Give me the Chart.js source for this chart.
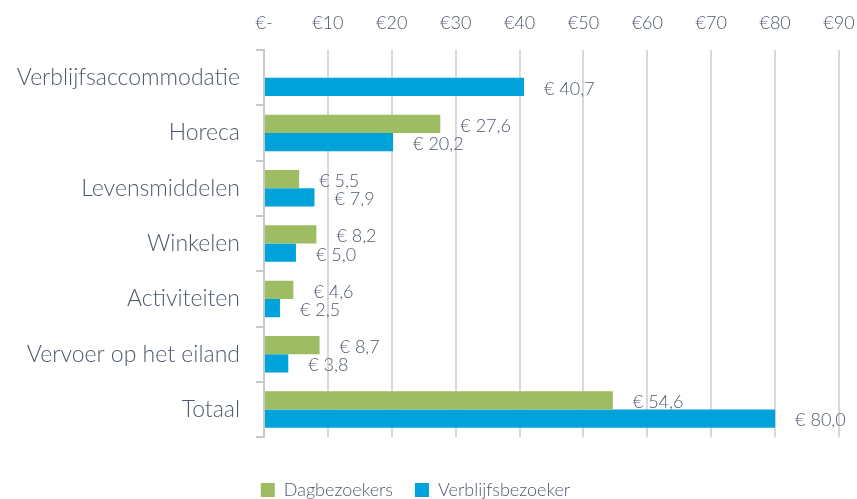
<!DOCTYPE html>
<html>
<head>
  <meta charset="UTF-8">
  <script src="https://cdn.jsdelivr.net/npm/chart.js"></script>
  <title>Uitgaven per bezoeker</title>
  <style>
    html, body { margin: 0; padding: 0; background: #fff; }
    #wrapper { width: 857px; height: 499px; }
  </style>
</head>
<body>
<div id="wrapper">
  <canvas id="spend" width="857" height="499"></canvas>
</div>
<script>
    const categories = ['Verblijfsaccommodatie', 'Horeca', 'Levensmiddelen', 'Winkelen', 'Activiteiten', 'Vervoer op het eiland', 'Totaal'];
    const dagbezoekers = [null, 27.6, 5.5, 8.2, 4.6, 8.7, 54.6];
    const verblijfsbezoeker = [40.7, 20.2, 7.9, 5.0, 2.5, 3.8, 80.0];
    const xTicks = [0, 10, 20, 30, 40, 50, 60, 70, 80, 90];

    const fontFamily = 'Lato, "Source Sans Pro", "Open Sans", sans-serif';
    const textColor = '#4d5a6b';

    function euro(v) {
        return '€ ' + v.toFixed(1).replace('.', ',');
    }

    // value labels right of each bar
    const valueLabels = {
        id: 'valueLabels',
        afterDatasetsDraw(chart) {
            const ctx = chart.ctx;
            ctx.save();
            ctx.font = '300 18px ' + fontFamily;
            ctx.fillStyle = textColor;
            ctx.textBaseline = 'middle';
            ctx.textAlign = 'left';
            chart.data.datasets.forEach((ds, i) => {
                const meta = chart.getDatasetMeta(i);
                meta.data.forEach((bar, j) => {
                    const v = ds.data[j];
                    if (v === null || v === undefined) return;
                    ctx.fillText(euro(v), bar.x + 20, bar.y + 2);
                });
            });
            ctx.restore();
        }
    };

    // nudge the legend a bit (left and down), like the original
    const legendShift = {
        id: 'legendShift',
        afterLayout(chart) {
            const lg = chart.legend;
            if (!lg) return;
            lg.left -= 13; lg.right -= 13;
            lg.top += 10; lg.bottom += 10;
        }
    };

    const ctx = document.getElementById('spend').getContext('2d');
    const config = {
        type: 'bar',
        data: {
            labels: categories,
            datasets: [
                {
                    label: 'Dagbezoekers',
                    data: dagbezoekers,
                    backgroundColor: '#9ebd62',
                    barPercentage: 1.0,
                    categoryPercentage: 0.66
                },
                {
                    label: 'Verblijfsbezoeker',
                    data: verblijfsbezoeker,
                    backgroundColor: '#00a2dc',
                    barPercentage: 1.0,
                    categoryPercentage: 0.66
                }
            ]
        },
        options: {
            indexAxis: 'y',
            responsive: false,
            animation: false,
            layout: { padding: 0 },
            scales: {
                x: {
                    position: 'top',
                    min: 0,
                    max: 90,
                    afterBuildTicks(scale) {
                        scale.ticks = xTicks.map(v => ({ value: v }));
                    },
                    afterFit(scale) {
                        scale.height = 50;
                        scale.paddingRight = 18;
                        scale.paddingLeft = 0;
                    },
                    border: { display: false },
                    grid: { color: '#d9d9d9', lineWidth: 2, drawTicks: false },
                    ticks: {
                        padding: 16,
                        color: textColor,
                        font: { family: fontFamily, size: 18, weight: '300' },
                        callback: v => v === 0 ? '€-' : '€' + v
                    }
                },
                y: {
                    afterFit(scale) { scale.width = 264; },
                    border: { display: true, color: '#c8c8c8', width: 2 },
                    grid: { offset: true, drawOnChartArea: false, color: '#c8c8c8', lineWidth: 2, tickLength: 8 },
                    ticks: {
                        padding: 16,
                        color: textColor,
                        font: { family: fontFamily, size: 23, weight: '300' }
                    }
                }
            },
            plugins: {
                tooltip: { enabled: false },
                legend: {
                    position: 'bottom',
                    title: { display: true, text: ' ', padding: { top: 7, bottom: 0 }, font: { size: 4 } },
                    labels: {
                        boxWidth: 14,
                        boxHeight: 14,
                        padding: 22,
                        color: textColor,
                        font: { family: fontFamily, size: 18, weight: '300' }
                    }
                }
            }
        },
        plugins: [valueLabels, legendShift]
    };
    const chart = new Chart(ctx, config);
</script>
</body>
</html>
